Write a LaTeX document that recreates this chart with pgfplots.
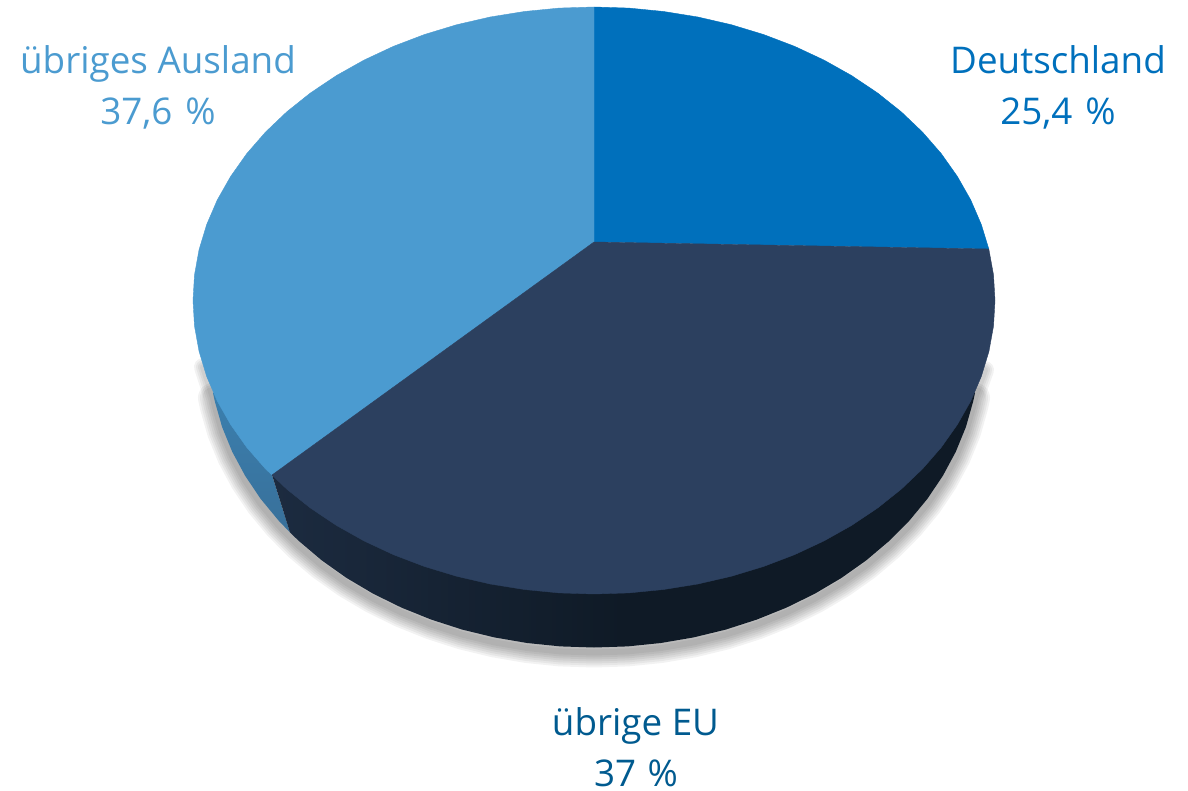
\documentclass[border=0pt]{standalone}
\usepackage{pgfplots}
\usepackage{pgfplotstable}
\usepackage{fontspec}
\setmainfont{Open Sans}
\pgfplotsset{compat=1.18}
\definecolor{cBlue}{HTML}{0070BC}
\definecolor{cDark}{HTML}{2C405F}
\definecolor{cLight}{HTML}{4B9BD0}
\definecolor{cEU}{HTML}{005A8F}
\definecolor{wallA}{HTML}{3A7FAE}
\definecolor{wallB}{HTML}{39709A}
\definecolor{darkA}{HTML}{1C2B40}
\definecolor{darkB}{HTML}{0F1A26}
\pgfplotstableread{
x y
975 393
973.1 401.7
965.9 427
955.8 451.7
942.9 475.7
927.4 498.8
909.4 520.6
888.9 541.2
866.2 560.4
841.5 577.9
814.8 593.7
786.5 607.6
756.7 619.6
725.7 629.6
693.6 637.4
660.9 643
627.6 646.4
594 647.5
560.4 646.4
527.1 643
494.4 637.4
462.3 629.6
431.3 619.6
401.5 607.6
373.2 593.7
346.5 577.9
321.8 560.4
299.1 541.2
278.6 520.6
260.6 498.8
245.1 475.7
232.2 451.7
222.1 427
214.9 401.7
213 393
}\shadowedge
\pgfplotstableread{
x y
985 365
975 393
973.1 401.7
965.9 427
955.8 451.7
942.9 475.7
927.4 498.8
909.4 520.6
888.9 541.2
866.2 560.4
841.5 577.9
814.8 593.7
786.5 607.6
756.7 619.6
725.7 629.6
693.6 637.4
660.9 643
627.6 646.4
594 647.5
560.4 646.4
527.1 643
494.4 637.4
462.3 629.6
431.3 619.6
401.5 607.6
373.2 593.7
346.5 577.9
321.8 560.4
299.1 541.2
278.6 520.6
260.6 498.8
245.1 475.7
232.2 451.7
222.1 427
214.9 401.7
213 393
203 362
}\shadowlong
\begin{document}
\begin{tikzpicture}
\begin{axis}[
  width=1188pt, height=791pt, scale only axis,
  xmin=0, xmax=1188, ymin=0, ymax=791, y dir=reverse,
  hide axis, clip=false]
\path (axis cs:0,0) rectangle (axis cs:1188,791);
% soft shadow
\addplot[draw=black, line join=round, opacity=.05, line width=30pt, yshift=-5pt, forget plot] table {\shadowedge} --cycle;
\addplot[draw=black, line join=round, opacity=.05, line width=26pt, yshift=-5pt, forget plot] table {\shadowedge} --cycle;
\addplot[draw=black, line join=round, opacity=.05, line width=22pt, yshift=-5pt, forget plot] table {\shadowedge} --cycle;
\addplot[draw=black, line join=round, opacity=.05, line width=18pt, yshift=-5pt, forget plot] table {\shadowlong} --cycle;
\addplot[draw=black, line join=round, opacity=.05, line width=14pt, yshift=-5pt, forget plot] table {\shadowlong} --cycle;
\addplot[draw=black, line join=round, opacity=.05, line width=10pt, yshift=-5pt, forget plot] table {\shadowlong} --cycle;
\addplot[draw=black, line join=round, opacity=.05, line width=6pt, yshift=-5pt, forget plot] table {\shadowlong} --cycle;
% side wall, light part
\addplot[draw=none, top color=wallA, bottom color=wallB, forget plot] coordinates {
(213,393)(214.9,401.7)(222.1,427)(232.2,451.7)(245.1,475.7)(260.6,498.8)(278.6,520.6)(290,532.5)(272,475)(240,400)} --cycle;
% side wall, dark part
\addplot[draw=none, left color=darkA, right color=darkB, middle color=darkB, forget plot] coordinates {
(290,532.5)(299.1,541.2)(321.8,560.4)(346.5,577.9)(373.2,593.7)(401.5,607.6)(431.3,619.6)(462.3,629.6)(494.4,637.4)(527.1,643)(560.4,646.4)(594,647.5)(627.6,646.4)(660.9,643)(693.6,637.4)(725.7,629.6)(756.7,619.6)(786.5,607.6)(814.8,593.7)(841.5,577.9)(866.2,560.4)(888.9,541.2)(909.4,520.6)(927.4,498.8)(942.9,475.7)(955.8,451.7)(965.9,427)(973.1,401.7)(975,393)(900,350)(272,475)} --cycle;
% top: Deutschland
\addplot[fill=cBlue, draw=cBlue, line width=.4pt, forget plot] coordinates {
(594,242)(594,7)(629,8.1)(663.6,11.5)(697.8,17)(731.2,24.7)(763.5,34.5)(794.5,46.3)(824,60.1)(851.8,75.7)(877.6,93)(901.2,111.8)(922.5,132.1)(941.3,153.7)(957.4,176.5)(970.8,200.1)(981.3,224.5)(988.8,249)} --cycle;
% top: uebriges Ausland
\addplot[fill=cLight, draw=cLight, line width=.4pt, forget plot] coordinates {
(594,242)(272,475)(265.5,468.9)(246.7,447.3)(230.6,424.5)(217.2,400.9)(206.7,376.5)(199.1,351.5)(194.5,326.1)(193,300.5)(194.5,274.9)(199.1,249.5)(206.7,224.5)(217.2,200.1)(230.6,176.5)(246.7,153.7)(265.5,132.1)(286.8,111.8)(310.4,93)(336.2,75.7)(364,60.1)(393.5,46.3)(424.5,34.5)(456.8,24.7)(490.2,17)(524.4,11.5)(559,8.1)(594,7)} --cycle;
% top: uebrige EU
\addplot[fill=cDark, draw=cDark, line width=.4pt, forget plot] coordinates {
(594,242)(988.8,249)(993.5,274.9)(995,300.5)(993.5,326.1)(988.9,351.5)(981.3,376.5)(970.8,400.9)(957.4,424.5)(941.3,447.3)(922.5,468.9)(901.2,489.2)(877.6,508)(851.8,525.3)(824,540.9)(794.5,554.7)(763.5,566.5)(731.2,576.3)(697.8,584)(663.6,589.5)(629,592.9)(594,594)(559,592.9)(524.4,589.5)(490.2,584)(456.8,576.3)(424.5,566.5)(393.5,554.7)(364,540.9)(336.2,525.3)(310.4,508)(286.8,489.2)(272,475)} --cycle;
% labels
\node[anchor=base, inner sep=0pt, text=cBlue, font=\fontsize{36.8}{44}\selectfont] at (axis cs:1058,74) {Deutschland};
\node[anchor=base, inner sep=0pt, text=cBlue, font=\fontsize{36.8}{44}\selectfont] at (axis cs:1058,125) {25,4 \hspace{3.5pt}\%};
\node[anchor=base, inner sep=0pt, text=cLight, font=\fontsize{36.8}{44}\selectfont] at (axis cs:158,74) {übriges Ausland};
\node[anchor=base, inner sep=0pt, text=cLight, font=\fontsize{36.8}{44}\selectfont] at (axis cs:158,125) {37,6 \hspace{3.5pt}\%};
\node[anchor=base, inner sep=0pt, text=cEU, font=\fontsize{36.8}{44}\selectfont] at (axis cs:635.5,735) {übrige EU};
\node[anchor=base, inner sep=0pt, text=cEU, font=\fontsize{36.8}{44}\selectfont] at (axis cs:636,786) {37 \hspace{2pt}\%};
\end{axis}
\end{tikzpicture}
\end{document}
